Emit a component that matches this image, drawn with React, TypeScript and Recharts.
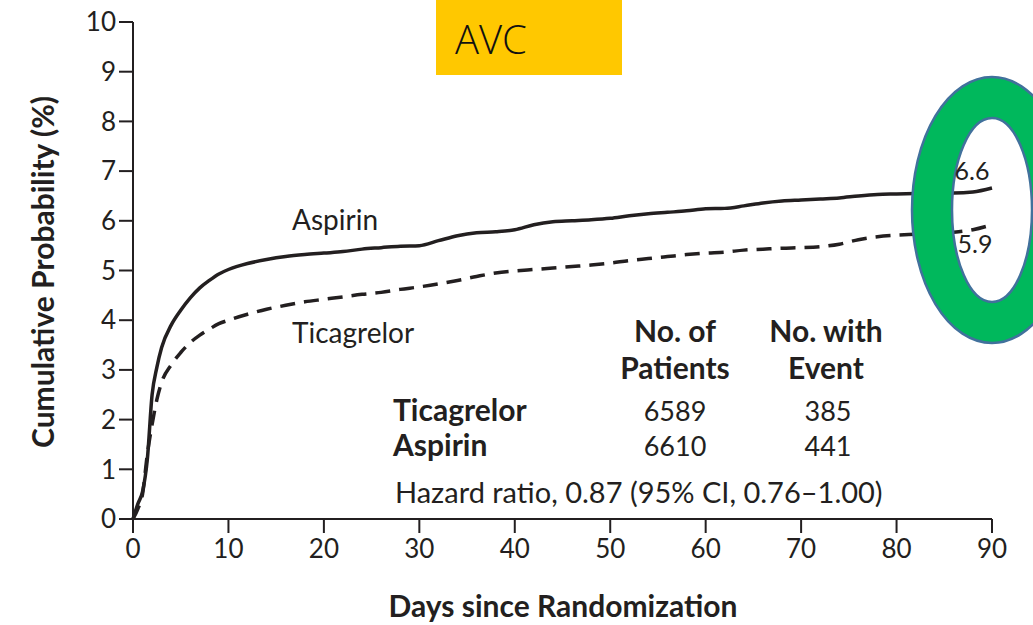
import { CartesianGrid, Line, LineChart, XAxis, YAxis } from "recharts";

const DAYS = [
  0, 0.5, 1, 1.5, 2, 2.5, 3, 4, 5, 6, 7, 8, 9, 10, 12, 14, 16, 18, 20, 22, 24, 26, 28, 30, 32, 34, 36, 38, 40,
  42, 44, 46, 48, 50, 52, 54, 56, 58, 60, 62, 64, 66, 68, 70, 72, 74, 76, 78, 80, 82, 84, 86, 88, 90,
];

const ASPIRIN = [
  0, 0.3, 0.55, 1.2, 2.5, 3.05, 3.45, 3.9, 4.2, 4.45, 4.65, 4.8, 4.93, 5.02, 5.14, 5.22, 5.28, 5.32, 5.35, 5.38,
  5.43, 5.46, 5.49, 5.5, 5.6, 5.7, 5.76, 5.78, 5.82, 5.92, 5.98, 6.0, 6.02, 6.05, 6.1, 6.14, 6.17, 6.2, 6.24,
  6.25, 6.3, 6.36, 6.4, 6.42, 6.44, 6.46, 6.5, 6.53, 6.54, 6.55, 6.56, 6.56, 6.58, 6.66,
];

const TICAGRELOR = [
  0, 0.2, 0.5, 1.3, 1.9, 2.4, 2.75, 3.1, 3.35, 3.55, 3.7, 3.82, 3.93, 4.0, 4.12, 4.22, 4.3, 4.37, 4.42, 4.47,
  4.52, 4.56, 4.62, 4.67, 4.73, 4.8, 4.88, 4.95, 4.99, 5.02, 5.05, 5.08, 5.11, 5.15, 5.2, 5.24, 5.28, 5.32,
  5.35, 5.37, 5.41, 5.43, 5.45, 5.46, 5.48, 5.53, 5.62, 5.68, 5.71, 5.73, 5.75, 5.77, 5.82, 5.92,
];

const X_TICKS = [0, 10, 20, 30, 40, 50, 60, 70, 80, 90];
const Y_TICKS = [0, 1, 2, 3, 4, 5, 6, 7, 8, 9, 10];

const INK = "#231f20";
const FONT = "Lato, 'Open Sans', sans-serif";
const RING = "#00b85c";
const RING_EDGE = "#41719c";

const rows = DAYS.map((d, i) => ({ day: d, aspirin: ASPIRIN[i], ticagrelor: TICAGRELOR[i] }));

const tickStyle = { fill: INK, fontSize: 26, fontFamily: FONT };

// ring = outer ellipse minus inner ellipse (even-odd), so the curves show through the hole
const ellipsePath = (cx: number, cy: number, rx: number, ry: number) =>
  `M${cx - rx} ${cy} a${rx} ${ry} 0 1 0 ${rx * 2} 0 a${rx} ${ry} 0 1 0 ${-rx * 2} 0 Z`;

export default function App() {
  return (
    <div style={{ position: "absolute", left: 0, top: 0, width: 1033, height: 625, background: "#fff", overflow: "hidden" }}>
      <LineChart width={1033} height={625} data={rows} margin={{ top: 22, right: 41, left: 53, bottom: 46 }}>
        <CartesianGrid horizontal={false} vertical={false} />
        <XAxis
          dataKey="day"
          type="number"
          domain={[0, 90]}
          ticks={X_TICKS}
          height={60}
          tick={tickStyle}
          tickSize={14}
          tickMargin={7}
          axisLine={{ stroke: INK, strokeWidth: 2 }}
          tickLine={{ stroke: INK, strokeWidth: 2 }}
        />
        <YAxis
          type="number"
          domain={[0, 10]}
          ticks={Y_TICKS}
          width={80}
          tick={tickStyle}
          tickSize={14}
          tickMargin={3}
          axisLine={{ stroke: INK, strokeWidth: 2 }}
          tickLine={{ stroke: INK, strokeWidth: 2 }}
        />
        <Line
          type="monotone"
          dataKey="ticagrelor"
          stroke={INK}
          strokeWidth={3.5}
          strokeDasharray="15 9"
          dot={false}
          isAnimationActive={false}
        />
        <Line
          type="monotone"
          dataKey="aspirin"
          stroke={INK}
          strokeWidth={3.5}
          dot={false}
          isAnimationActive={false}
        />
      </LineChart>

      {/* annotations, table, highlight ring */}
      <svg
        width={1033}
        height={625}
        style={{ position: "absolute", left: 0, top: 0, pointerEvents: "none" }}
        fontFamily={FONT}
        fill={INK}
      >
        <text x={42} y={272} fontSize={30} fontWeight={700} textAnchor="middle" dominantBaseline="central" transform="rotate(-90 42 272)">
          Cumulative Probability (%)
        </text>
        <text x={563} y={617} fontSize={30} fontWeight={700} textAnchor="middle">
          Days since Randomization
        </text>

        <text x={292} y={230} fontSize={28}>Aspirin</text>
        <text x={292} y={343} fontSize={28}>Ticagrelor</text>

        <g fontSize={30} fontWeight={700} textAnchor="middle">
          <text x={675} y={342}>No. of</text>
          <text x={675} y={379}>Patients</text>
          <text x={826} y={342}>No. with</text>
          <text x={826} y={379}>Event</text>
        </g>
        <g fontSize={30} fontWeight={700}>
          <text x={393} y={421}>Ticagrelor</text>
          <text x={393} y={456}>Aspirin</text>
        </g>
        <g fontSize={27} textAnchor="middle">
          <text x={675} y={421}>6589</text>
          <text x={675} y={456}>6610</text>
          <text x={828} y={421}>385</text>
          <text x={828} y={456}>441</text>
        </g>
        <text x={395} y={503} fontSize={29}>Hazard ratio, 0.87 (95% CI, 0.76–1.00)</text>

        <path
          d={ellipsePath(992, 210, 80, 133) + ellipsePath(992, 210, 40, 92)}
          fill={RING}
          fillRule="evenodd"
          stroke={RING_EDGE}
          strokeWidth={2.5}
        />
        <text x={972} y={180} fontSize={25} textAnchor="middle">6.6</text>
        <text x={975} y={253} fontSize={25} textAnchor="middle">5.9</text>
      </svg>

      <div
        style={{
          position: "absolute",
          left: 436,
          top: 0,
          width: 186,
          height: 75,
          background: "#ffc800",
          fontFamily: "'Open Sans', 'Noto Sans', sans-serif",
          fontWeight: 300,
          fontSize: 40,
          color: "#111",
          lineHeight: "78px",
          paddingLeft: 19,
          boxSizing: "border-box",
        }}
      >
        AVC
      </div>
    </div>
  );
}
